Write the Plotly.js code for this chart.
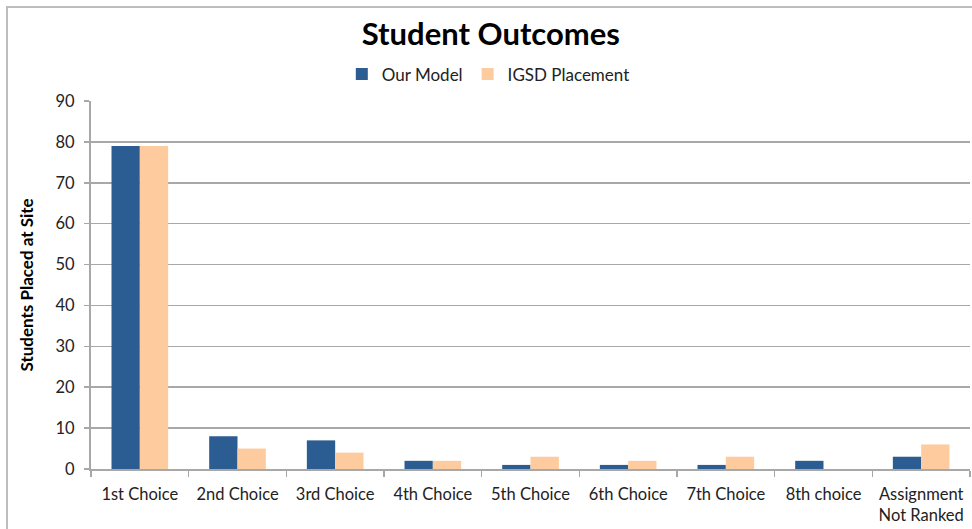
<!DOCTYPE html>
<html>
<head>
<meta charset="utf-8">
<script src="https://cdn.plot.ly/plotly-3.0.1.min.js"></script>
<style>html,body{margin:0;padding:0;background:#fff;}#chart{width:972px;height:529px;}</style>
</head>
<body>
<div id="chart"></div>
<script>
const categories = ["1st Choice","2nd Choice","3rd Choice","4th Choice","5th Choice","6th Choice","7th Choice","8th choice","Assignment<br>Not Ranked"];
const ourModel = [79, 8, 7, 2, 1, 1, 1, 2, 3];
const igsdPlacement = [79, 5, 4, 2, 3, 2, 3, 0, 6];
const yTicks = [0,10,20,30,40,50,60,70,80,90];

const fontFam = "Lato, 'Open Sans', 'Liberation Sans', sans-serif";
const traces = [
  {type:'bar', name:'Our Model', x:categories, y:ourModel, marker:{color:'#2b5d92'}},
  {type:'bar', name:'IGSD Placement', x:categories, y:igsdPlacement, marker:{color:'#fdcb9d'}}
];
const layout = {
  width:972, height:529,
  margin:{l:91, r:2, t:101, b:60},
  paper_bgcolor:'#fff', plot_bgcolor:'#fff',
  font:{family:fontFam, color:'#222', size:16.5},
  title:{text:'<b>Student Outcomes</b>', font:{size:31, family:fontFam, color:'#000'}, x:0.505, xanchor:'center', y:0.935, yanchor:'middle'},
  showlegend:true,
  legend:{orientation:'h', x:0.452, xanchor:'center', y:1.072, yanchor:'middle', font:{size:17, family:fontFam, color:'#222'}, itemwidth:30, traceorder:'normal', tracegroupgap:0},
  barmode:'group', bargap:0.42, bargroupgap:0,
  xaxis:{type:'category', showline:true, linecolor:'#a8a8a8', linewidth:2, ticks:'outside', tickson:'boundaries', ticklen:6, tickcolor:'#a8a8a8', tickwidth:1.5, ticklabelstandoff:9, tickfont:{size:16.5, family:fontFam, color:'#222'}, showgrid:false, fixedrange:true},
  yaxis:{range:[0,90], tickvals:yTicks, ticktext:yTicks.map(String), showline:true, linecolor:'#a8a8a8', linewidth:2, ticks:'outside', ticklen:5, tickcolor:'#a8a8a8', tickwidth:1.5, ticklabelstandoff:6, showgrid:true, gridcolor:'#a8a8a8', gridwidth:1.5, zeroline:false, tickfont:{size:16.5, family:fontFam, color:'#222'}, title:{text:'<b>Students Placed at Site</b>', font:{size:17, family:fontFam, color:'#000'}, standoff:18}},
  shapes:[
    {type:'rect', xref:'paper', yref:'paper', x0:(7-91)/879, x1:1.01, y0:-0.3, y1:(469-7)/368, line:{color:'#bdbdbd', width:2}, fillcolor:'rgba(0,0,0,0)', layer:'below'}
  ]
};
Plotly.newPlot('chart', traces, layout, {displayModeBar:false, staticPlot:true});
</script>
</body>
</html>
